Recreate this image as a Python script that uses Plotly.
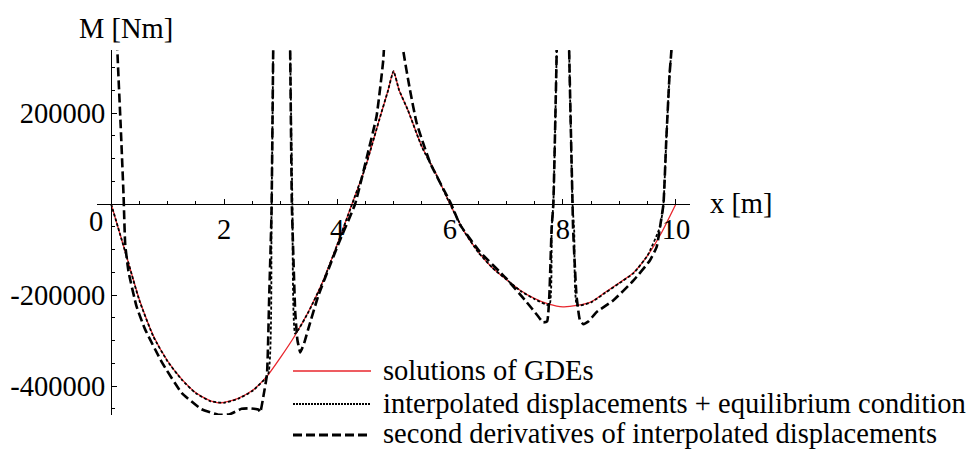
import plotly.graph_objects as go

# ---- data ----
# solutions of GDEs (red)
gde_x = [0.0, 0.25, 0.5, 0.75, 1.0, 1.25, 1.5, 1.75, 1.9, 2.0, 2.25, 2.5, 2.75, 3.0, 3.25, 3.5,
         3.75, 4.0, 4.25, 4.5, 4.75, 4.9, 5.0, 5.1, 5.25, 5.5, 5.75, 6.0, 6.25, 6.5, 6.75, 7.0,
         7.25, 7.5, 7.75, 8.0, 8.25, 8.5, 8.75, 9.0, 9.25, 9.5, 9.75, 10.0]
gde_m = [0, -105000, -210000, -290000, -345000, -385000, -415000, -432000, -437000, -436000,
         -427000, -410000, -380000, -337000, -290000, -235000, -170000, -90000, -5000, 80000,
         186000, 248000, 292000, 250000, 208000, 127000, 67000, 0, -60000, -105000, -140000,
         -166000, -190000, -208000, -220000, -226000, -223000, -215000, -194000, -173000,
         -151000, -113000, -62000, 0]

# interpolated displacements + equilibrium condition (fine dotted)
eq_x = [0.0, 0.25, 0.5, 0.75, 1.0, 1.25, 1.5, 1.75, 2.0, 2.25, 2.5, 2.78, 2.84, 2.87, 2.92,
        3.12, 3.17, 3.21, 3.26, 3.5, 3.75, 4.0, 4.25, 4.5, 4.75, 4.9, 5.0, 5.1, 5.25, 5.5,
        5.75, 6.0, 6.25, 6.5, 6.75, 7.0, 7.25, 7.5, 7.76, 7.80, 7.83, 7.89, 7.95, 8.05, 8.11,
        8.17, 8.20, 8.25, 8.5, 8.75, 9.0, 9.25, 9.5, 9.72, 9.78, 9.83, 9.89, 9.92, 10.0]
eq_m = [0, -105000, -212000, -292000, -346000, -386000, -416000, -433000, -437000, -428000,
        -411000, -375000, -20000, 340000, 900000, 900000, 340000, 0, -285000, -236000,
        -171000, -91000, -6000, 80000, 186000, 248000, 292000, 250000, 208000, 126000, 66000,
        0, -60000, -106000, -140000, -166000, -191000, -209000, -222000, -54000, 0, 340000,
        900000, 900000, 340000, 0, -60000, -223000, -216000, -195000, -174000, -152000,
        -113000, -50000, 0, 141000, 289000, 337000, 900000]

# second derivatives of interpolated displacements (thick dashed)
d2_x = [0.0, 0.11, 0.17, 0.22, 0.25, 0.31, 0.45, 0.6, 0.9, 1.25, 1.6, 1.9, 2.1, 2.31, 2.45,
        2.61, 2.64, 2.70, 2.76, 2.80, 2.84, 2.87, 2.92, 3.12, 3.17, 3.20, 3.23, 3.26, 3.30,
        3.35, 3.42, 3.49, 3.67, 3.9, 4.05, 4.32, 4.53, 4.70, 4.82, 4.86, 5.0, 5.14, 5.17,
        5.29, 5.41, 5.65, 6.02, 6.18, 6.53, 7.0, 7.36, 7.55, 7.65, 7.72, 7.76, 7.80, 7.83,
        7.89, 7.95, 8.05, 8.11, 8.17, 8.18, 8.24, 8.30, 8.36, 8.45, 8.6, 8.89, 9.25, 9.54,
        9.66, 9.72, 9.78, 9.83, 9.89, 9.92, 10.0]
d2_m = [900000, 340000, 170000, 20000, -90000, -150000, -225000, -275000, -348000, -415000,
        -451000, -463000, -462000, -450000, -449000, -452000, -458000, -420000, -374000,
        -200000, -20000, 340000, 900000, 900000, 340000, 0, -128000, -238000, -300000,
        -326000, -305000, -275000, -201000, -127000, -80000, 0, 104000, 193000, 318000,
        420000, 900000, 420000, 340000, 252000, 178000, 90000, 0, -46000, -105000, -164000,
        -216000, -245000, -260000, -258000, -200000, -54000, 0, 340000, 900000, 900000,
        340000, 0, -54000, -201000, -255000, -264000, -258000, -237000, -212000, -168000,
        -124000, -94000, -50000, 0, 141000, 289000, 337000, 900000]

x_ticks = [2, 4, 6, 8, 10]
y_ticks = [-400000, -200000, 200000]
y_tick_text = ["-400000", "-200000", "200000"]

legend_names = ["solutions of GDEs",
                "interpolated displacements + equilibrium condition",
                "second derivatives of interpolated displacements"]

FONT = "Liberation Serif"
FS = 28.5
RED = "#e8262d"
DASH = "9px,4px"
DOT = "3px,2px"

fig = go.Figure()
fig.add_trace(go.Scatter(x=gde_x, y=gde_m, mode="lines",
                         line=dict(color=RED, width=1.3, shape="spline", smoothing=0.6),
                         name=legend_names[0]))
fig.add_trace(go.Scatter(x=eq_x, y=eq_m, mode="lines",
                         line=dict(color="black", width=1.8, dash=DOT, shape="spline",
                                   smoothing=0.4),
                         name=legend_names[1]))
fig.add_trace(go.Scatter(x=d2_x, y=d2_m, mode="lines",
                         line=dict(color="black", width=2.6, dash=DASH, shape="spline",
                                   smoothing=0.4),
                         name=legend_names[2]))

# plot-area geometry (pixels)
L, R, T, B = 97, 690, 50, 415
W, H = 973, 450
x_range = [-0.25, 10.25]
y_range = [-463700, 338500]
y0_frac = (0 - y_range[0]) / (y_range[1] - y_range[0])
x0_frac = (0 - x_range[0]) / (x_range[1] - x_range[0])

def px2paper_x(px):
    return (px - L) / (R - L)

def px2paper_y(py):
    return (B - py) / (B - T)

fig.update_layout(
    width=W, height=H,
    margin=dict(l=L, r=W - R, t=T, b=H - B, pad=0, autoexpand=False),
    plot_bgcolor="white", paper_bgcolor="white",
    showlegend=False,
    font=dict(family=FONT, size=FS, color="black"),
    xaxis=dict(range=x_range, anchor="free", position=y0_frac, automargin=False,
               showline=True, linecolor="black", linewidth=1.3,
               showgrid=False, zeroline=False,
               tickmode="array", tickvals=x_ticks, ticktext=[str(v) for v in x_ticks],
               ticks="inside", ticklen=5, tickwidth=1, tickcolor="black",
               minor=dict(tickmode="linear", tick0=0, dtick=0.5, ticks="inside",
                          ticklen=3, tickwidth=1, tickcolor="black"),
               tickfont=dict(family=FONT, size=FS)),
    yaxis=dict(range=y_range, anchor="free", position=x0_frac, automargin=False,
               showline=True, linecolor="black", linewidth=1.3,
               showgrid=False, zeroline=False,
               tickmode="array", tickvals=y_ticks, ticktext=y_tick_text,
               ticks="inside", ticklen=5, tickwidth=1, tickcolor="black",
               minor=dict(tickmode="linear", tick0=0, dtick=50000, ticks="inside",
                          ticklen=3, tickwidth=1, tickcolor="black"),
               tickfont=dict(family=FONT, size=FS)),
)

annotations = [
    dict(text="0", x=px2paper_x(96), y=px2paper_y(221), xref="paper", yref="paper",
         xanchor="center", yanchor="middle", showarrow=False),
    dict(text="M [Nm]", x=px2paper_x(126), y=px2paper_y(28), xref="paper", yref="paper",
         xanchor="center", yanchor="middle", showarrow=False),
    dict(text="x [m]", x=px2paper_x(708), y=px2paper_y(203), xref="paper", yref="paper",
         xanchor="left", yanchor="middle", showarrow=False),
]

legend_rows_px = [371, 404, 435]
legend_styles = [dict(color=RED, width=1.3),
                 dict(color="black", width=1.8, dash="2px,1px"),
                 dict(color="black", width=3.2, dash=DASH)]
shapes = []
for name, py, st in zip(legend_names, legend_rows_px, legend_styles):
    shapes.append(dict(type="line", xref="paper", yref="paper",
                       x0=px2paper_x(293), x1=px2paper_x(371),
                       y0=px2paper_y(py), y1=px2paper_y(py), line=st))
    annotations.append(dict(text=name, x=px2paper_x(381), y=px2paper_y(py - 1),
                            xref="paper", yref="paper", xanchor="left", yanchor="middle",
                            showarrow=False))

fig.update_layout(annotations=annotations, shapes=shapes)
fig.write_html("out.html",
               config={"displayModeBar": False},
               post_script="document.body.style.margin='0';document.body.style.overflow='hidden';")
